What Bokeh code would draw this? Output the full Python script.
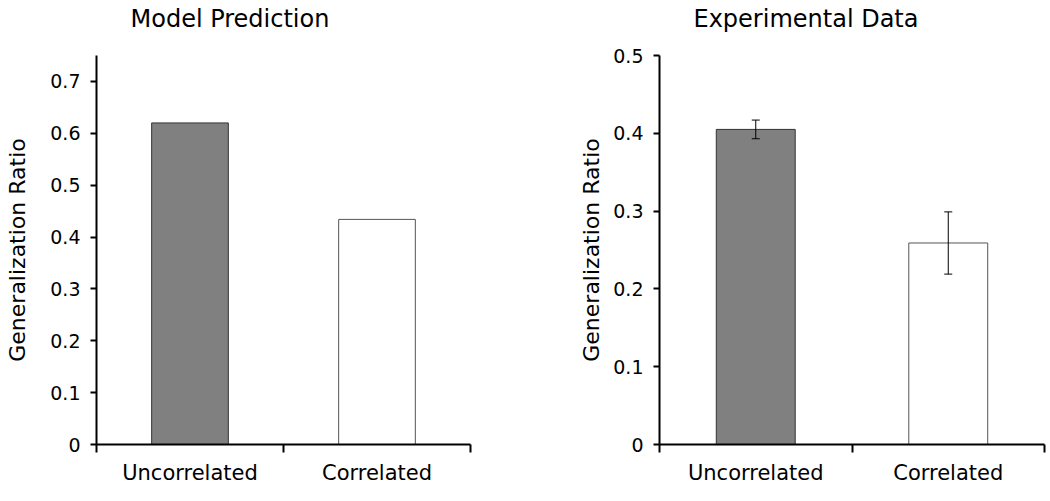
from bokeh.plotting import figure
from bokeh.layouts import row
from bokeh.models import FixedTicker, Range1d, Whisker, ColumnDataSource, TeeHead, Title
from bokeh.embed import file_html
from bokeh.resources import INLINE

# ---- data ----
categories = ["Uncorrelated", "Correlated"]
model_values = [0.62, 0.434]
exp_values = [0.405, 0.259]
exp_errors = [0.012, 0.040]
model_yticks = [0, 0.1, 0.2, 0.3, 0.4, 0.5, 0.6, 0.7]
model_ytick_labels = ["0", "0.1", "0.2", "0.3", "0.4", "0.5", "0.6", "0.7"]
exp_yticks = [0, 0.1, 0.2, 0.3, 0.4, 0.5]
exp_ytick_labels = ["0", "0.1", "0.2", "0.3", "0.4", "0.5"]
model_ymax = 0.75
exp_ymax = 0.5
y_label = "Generalization Ratio"
titles = ["Model Prediction", "Experimental Data"]

# ---- style ----
FONT = "DejaVu Sans"
bar_fills = ["#808080", "#ffffff"]
bar_lines = ["#333333", "#555555"]
H = 500
TOP = 55
BOTTOM = 56


def make_panel(title, values, yticks, ylabels, ymax, errors, width,
               mb_left, mb_right, label_standoff):
    n = len(categories)
    xs = [i + 0.5 for i in range(n)]
    p = figure(width=width, height=H, output_backend="svg", toolbar_location=None,
               x_range=Range1d(0, n), y_range=Range1d(0, ymax),
               min_border_left=mb_left, min_border_right=mb_right,
               min_border_top=TOP, min_border_bottom=BOTTOM)
    p.outline_line_color = None
    p.xgrid.visible = False
    p.ygrid.visible = False
    src = ColumnDataSource(dict(x=xs, top=values, fill=bar_fills[:n], line=bar_lines[:n]))
    p.vbar(x="x", top="top", width=0.41, bottom=0, fill_color="fill",
           line_color="line", line_width=1, source=src)
    if errors is not None:
        esrc = ColumnDataSource(dict(x=xs,
                                     upper=[v + e for v, e in zip(values, errors)],
                                     lower=[v - e for v, e in zip(values, errors)]))
        w = Whisker(base="x", upper="upper", lower="lower", source=esrc,
                    line_color="black", line_width=1, level="overlay",
                    upper_head=TeeHead(size=8, line_color="black", line_width=1),
                    lower_head=TeeHead(size=8, line_color="black", line_width=1))
        p.add_layout(w)

    # spacer between the frame and the title (nearest the frame)
    spacer = Title(text=" ", standoff=0, text_font=FONT, text_font_size="16px",
                   text_color="white")
    p.add_layout(spacer, "above")
    t = Title(text=title, align="left", offset=34, vertical_align="bottom",
              standoff=4, text_font=FONT, text_font_size="24px",
              text_font_style="normal", text_color="black")
    p.add_layout(t, "above")

    # x axis
    xa = p.xaxis[0]
    xa.ticker = FixedTicker(ticks=xs, minor_ticks=list(range(n + 1)))
    xa.major_label_overrides = {x: c for x, c in zip(xs, categories)}
    xa.major_tick_line_color = None
    xa.major_tick_out = 8
    xa.major_label_standoff = 8
    xa.minor_tick_line_color = "black"
    xa.minor_tick_line_width = 2
    xa.minor_tick_out = 8
    xa.minor_tick_in = 0
    xa.axis_line_width = 2
    xa.axis_line_color = "black"
    xa.major_label_text_font = FONT
    xa.major_label_text_font_size = "21px"
    xa.major_label_text_color = "black"

    # y axis
    ya = p.yaxis[0]
    ya.ticker = FixedTicker(ticks=yticks, minor_ticks=[])
    ya.major_label_overrides = {v: l for v, l in zip(yticks, ylabels)}
    ya.major_tick_line_width = 2
    ya.major_tick_line_color = "black"
    ya.major_tick_out = 6
    ya.major_tick_in = 0
    ya.minor_tick_line_color = None
    ya.axis_line_width = 2
    ya.axis_line_color = "black"
    ya.major_label_standoff = 10
    ya.major_label_text_font = FONT
    ya.major_label_text_font_size = "19px"
    ya.major_label_text_color = "black"
    ya.axis_label = y_label
    ya.axis_label_text_font = FONT
    ya.axis_label_text_font_size = "22px"
    ya.axis_label_text_font_style = "normal"
    ya.axis_label_text_color = "black"
    ya.axis_label_standoff = label_standoff
    return p


p1 = make_panel(titles[0], model_values, model_yticks, model_ytick_labels,
                model_ymax, None, width=510, mb_left=96, mb_right=40, label_standoff=17)
p2 = make_panel(titles[1], exp_values, exp_yticks, exp_ytick_labels,
                exp_ymax, exp_errors, width=538, mb_left=149, mb_right=4, label_standoff=6)

layout = row(p1, p2)
open("out.html", "w").write(file_html(layout, INLINE))
